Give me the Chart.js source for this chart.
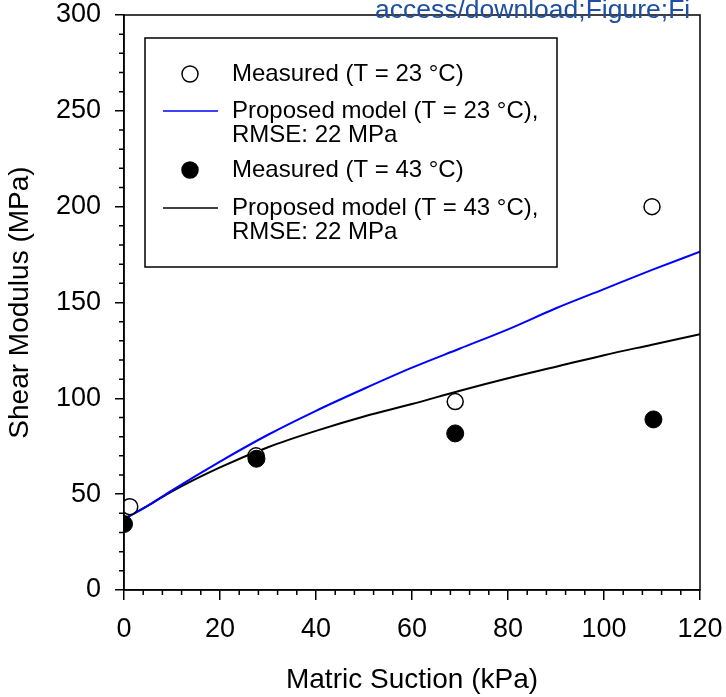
<!DOCTYPE html>
<html>
<head>
<meta charset="utf-8">
<script src="https://cdn.jsdelivr.net/npm/chart.js@4.4.1/dist/chart.umd.min.js"></script>
<style>
  body { margin: 0; background: #fff; }
  #wrap { width: 726px; height: 697px; position: relative; }
</style>
</head>
<body>
<div id="wrap"><canvas id="chart"></canvas></div>
<script>
// measured points
const suction23 = [1.2, 27.5, 69, 110];
const modulus23 = [43.5, 70, 98.3, 200];
const suction43 = [0, 27.6, 69, 110.3];
const modulus43 = [34.4, 68.5, 81.7, 89];

// proposed model curves
const suctionModel = [0, 5, 10, 20, 30, 40, 50, 60, 70, 80, 90, 100, 110, 120];
const model23 = [37, 44, 52, 67, 81, 93.5, 105, 116, 126, 136, 147, 157, 167, 176.5];
const model43 = [37, 44, 51.5, 64, 74.5, 83, 90.5, 97, 104, 110.5, 116.5, 122.5, 128, 133.5];

// axis ticks
const xTicks = [0, 20, 40, 60, 80, 100, 120];
const yTicks = [0, 50, 100, 150, 200, 250, 300];
const xMinorStep = 4;
const yMinorStep = 10;

// legend text
const legendText = [
  ["Measured (T = 23 °C)"],
  ["Proposed model (T = 23 °C),", "RMSE: 22 MPa"],
  ["Measured (T = 43 °C)"],
  ["Proposed model (T = 43 °C),", "RMSE: 22 MPa"]
];

const FONT = "'Liberation Sans', Arial, sans-serif";

function pts(xs, ys) {
  return xs.map((x, i) => ({ x: x, y: ys[i] }));
}

/* ========================
   PLUGINS
   ======================== */
// frame + minor ticks
const framePlugin = {
  id: "frame",
  afterDraw(chart) {
    const ctx = chart.ctx;
    const a = chart.chartArea;
    const xs = chart.scales.x, ys = chart.scales.y;
    ctx.save();
    ctx.strokeStyle = "#000";
    ctx.lineWidth = 1.5;
    ctx.strokeRect(a.left, a.top, a.right - a.left, a.bottom - a.top);

    ctx.beginPath();
    for (let v = xs.min; v <= xs.max; v += xMinorStep) {
      if (xTicks.includes(v)) continue;
      const px = xs.getPixelForValue(v);
      ctx.moveTo(px, a.bottom);
      ctx.lineTo(px, a.bottom + 5);
    }
    for (let v = ys.min; v <= ys.max; v += yMinorStep) {
      if (yTicks.includes(v)) continue;
      const py = ys.getPixelForValue(v);
      ctx.moveTo(a.left, py);
      ctx.lineTo(a.left - 5, py);
    }
    ctx.stroke();
    ctx.restore();
  }
};

// boxed legend inside the plot
const legendPlugin = {
  id: "boxLegend",
  afterDraw(chart) {
    const ctx = chart.ctx;
    const box = { left: 145, top: 38, right: 557, bottom: 267 };
    const rows = [74, 111, 170, 208];
    ctx.save();
    ctx.fillStyle = "#fff";
    ctx.fillRect(box.left, box.top, box.right - box.left, box.bottom - box.top);
    ctx.strokeStyle = "#000";
    ctx.lineWidth = 1.5;
    ctx.strokeRect(box.left, box.top, box.right - box.left, box.bottom - box.top);

    ctx.font = "24px " + FONT;
    ctx.textBaseline = "middle";
    ctx.textAlign = "left";
    chart.data.datasets.forEach((ds, i) => {
      const y = rows[i];
      if (ds.showLine === false) {
        ctx.beginPath();
        ctx.arc(190, y, 8, 0, Math.PI * 2);
        ctx.fillStyle = ds.pointBackgroundColor;
        ctx.fill();
        ctx.lineWidth = 1.5;
        ctx.strokeStyle = ds.pointBorderColor;
        ctx.stroke();
      } else {
        ctx.beginPath();
        ctx.moveTo(163, y);
        ctx.lineTo(218, y);
        ctx.lineWidth = 1.5;
        ctx.strokeStyle = ds.borderColor;
        ctx.stroke();
      }
      ctx.fillStyle = "#000";
      legendText[i].forEach((line, j) => {
        ctx.fillText(line, 232, y + j * 24);
      });
    });
    ctx.restore();
  }
};

// stray link text clipped at the top of the figure
const stampPlugin = {
  id: "stamp",
  afterDraw(chart) {
    const ctx = chart.ctx;
    ctx.save();
    ctx.font = "26.5px " + FONT;
    ctx.fillStyle = "#1f4fa3";
    ctx.textBaseline = "alphabetic";
    ctx.fillText("access/download;Figure;Fi", 375, 18);
    ctx.restore();
  }
};

/* ========================
   CHART
   ======================== */
const ctx = document.getElementById("chart").getContext("2d");
new Chart(ctx, {
  type: "scatter",
  data: {
    datasets: [
      {
        label: legendText[0].join(" "),
        data: pts(suction23, modulus23),
        showLine: false,
        pointRadius: 8,
        pointBorderWidth: 1.5,
        pointBorderColor: "#000",
        pointBackgroundColor: "#fff",
        order: 2
      },
      {
        label: legendText[1].join(" "),
        data: pts(suctionModel, model23),
        showLine: true,
        pointRadius: 0,
        borderColor: "#0000ff",
        borderWidth: 2,
        cubicInterpolationMode: "monotone",
        order: 3
      },
      {
        label: legendText[2].join(" "),
        data: pts(suction43, modulus43),
        showLine: false,
        pointRadius: 8.5,
        pointBorderWidth: 1,
        pointBorderColor: "#000",
        pointBackgroundColor: "#000",
        order: 1
      },
      {
        label: legendText[3].join(" "),
        data: pts(suctionModel, model43),
        showLine: true,
        pointRadius: 0,
        borderColor: "#000",
        borderWidth: 2,
        cubicInterpolationMode: "monotone",
        order: 4
      }
    ]
  },
  options: {
    responsive: true,
    maintainAspectRatio: false,
    animation: false,
    layout: { padding: { left: 0, top: 15, right: 26, bottom: 0 } },
    plugins: {
      legend: { display: false },
      tooltip: { enabled: false }
    },
    scales: {
      x: {
        type: "linear",
        min: 0,
        max: 120,
        afterBuildTicks: s => { s.ticks = xTicks.map(v => ({ value: v })); },
        // fixed axis box so the plot area sits where the original does
        afterFit: s => { s.height = 107; s.paddingLeft = 0; s.paddingRight = 0; },
        grid: { drawOnChartArea: false, drawTicks: true, tickLength: 10, color: "#000", lineWidth: 1.5 },
        border: { display: true, color: "#000", width: 1.5 },
        ticks: { color: "#000", padding: 13, font: { family: FONT, size: 27 }, maxRotation: 0 },
        title: { display: true, text: "Matric Suction (kPa)", color: "#000", padding: { top: 0, bottom: 0 }, font: { family: FONT, size: 28 } }
      },
      y: {
        type: "linear",
        min: 0,
        max: 300,
        afterBuildTicks: s => { s.ticks = yTicks.map(v => ({ value: v })); },
        afterFit: s => { s.width = 124; s.paddingTop = 0; s.paddingBottom = 0; },
        grid: { drawOnChartArea: false, drawTicks: true, tickLength: 9, color: "#000", lineWidth: 1.5 },
        border: { display: true, color: "#000", width: 1.5 },
        ticks: { color: "#000", padding: 14, font: { family: FONT, size: 27 } },
        title: { display: true, text: "Shear Modulus (MPa)", color: "#000", padding: { top: 3, bottom: 0 }, font: { family: FONT, size: 28 } }
      }
    }
  },
  plugins: [framePlugin, legendPlugin, stampPlugin]
});
</script>
</body>
</html>
